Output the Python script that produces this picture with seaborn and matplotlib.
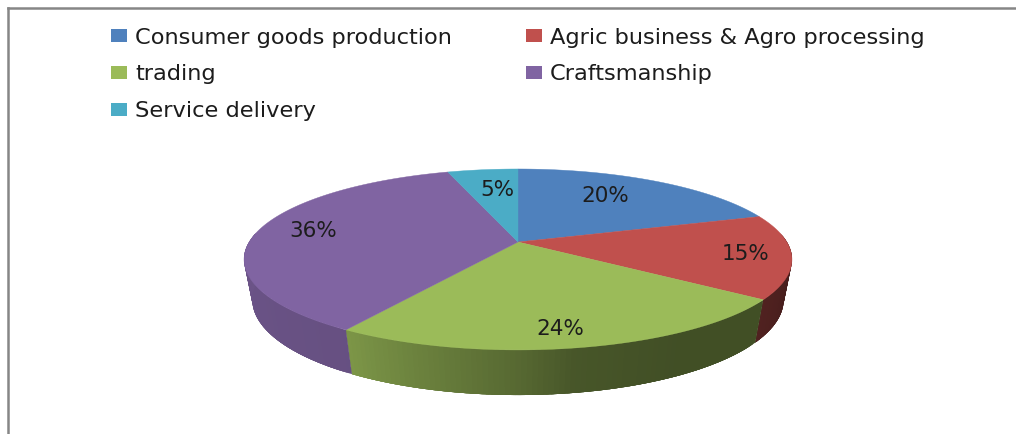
import numpy as np
import matplotlib
matplotlib.use("Agg")
import matplotlib.pyplot as plt
from matplotlib.patches import Patch
import seaborn as sns

# Survey shares, clockwise from twelve o'clock
categories = ["Consumer goods production", "Agric business & Agro processing",
              "trading", "Craftsmanship", "Service delivery"]
shares = [20, 15, 24, 36, 5]
slice_colors = ["#4F81BD", "#C0504D", "#9BBB59", "#8064A2", "#4BACC6"]

# Placement of the percentage labels (pixel space)
label_x = [605, 746, 560, 313, 497]
label_y = [196, 254, 329, 231, 190]

sns.set_theme(style="white")
plt.rcParams["font.family"] = ["DejaVu Sans"]
palette = sns.color_palette(slice_colors)

# Perspective view of the disc
CX, CY = 518, 242
A, B = 268.8, 87.1
PERSP = 0.193
DEPTH, DEPTH_W = 41.0, 0.03


def project(theta, radius=1.0, lower=False):
    u, v = radius * np.sin(theta), radius * np.cos(theta)
    w = 1 + PERSP * v + (DEPTH_W if lower else 0)
    y = B * v - (DEPTH if lower else 0)
    return CX + A * u / w, CY - y / w


def side_shade(theta):
    deg = np.degrees(theta)
    return np.interp(deg, [90, 126, 150, 170, 180, 212, 270],
                     [0.33, 0.42, 0.42, 0.46, 0.56, 0.80, 0.84])


fig = plt.figure(figsize=(10.16, 4.34), dpi=100)
ax = fig.add_axes([8 / 1016, 0, 1008 / 1016, 426 / 434])
ax.set_xlim(8, 1016)
ax.set_ylim(434, 8)
ax.set_xticks([])
ax.set_yticks([])
sns.despine(ax=ax, top=False, right=True, bottom=True)
for name in ("left", "top"):
    ax.spines[name].set_color("#868686")
    ax.spines[name].set_linewidth(1.8)

edges = 2 * np.pi * np.concatenate([[0], np.cumsum(shares)]) / np.sum(shares)

# Side wall: shaded strips painted over each other along the front of the rim
for start, stop, color in zip(edges[:-1], edges[1:], palette):
    lo, hi = max(start, np.pi / 2 - 0.1), min(stop, 3 * np.pi / 2 + 0.1)
    if hi <= lo:
        continue
    steps = np.linspace(lo, hi, max(int((hi - lo) * 60), 2))
    for t0, t1 in zip(steps[:-1], steps[1:]):
        arc = np.linspace(t0, hi if t1 == hi else min(t1 + 0.06, hi), 6)
        x0, y0 = project(arc)
        x1, y1 = project(arc[::-1], lower=True)
        shade = np.array(color) * side_shade((t0 + t1) / 2)
        ax.fill(np.r_[x0, x1], np.r_[y0, y1], color=shade, lw=0, zorder=2)

# Top surface
for start, stop, color in zip(edges[:-1], edges[1:], palette):
    arc = np.linspace(start, stop, 200)
    x, y = project(arc)
    ax.fill(np.r_[CX, x], np.r_[CY, y], color=color, lw=0.3, zorder=3)

for value, lx, ly in zip(shares, label_x, label_y):
    ax.text(lx, ly, f"{value}%", ha="center", va="center", fontsize=15.5,
            color="#1c1c1c", zorder=4)

# Legend fills column by column, so order the entries to read across in rows
order = [0, 2, 4, 1, 3]
handles = [Patch(facecolor=palette[i], edgecolor="none", label=categories[i])
           for i in order]
ax.legend(handles=handles, ncol=2, frameon=False, fontsize=16.2,
          loc="upper left", bbox_to_anchor=(111, 27.5), bbox_transform=ax.transData,
          handlelength=0.71, handleheight=0.49, handletextpad=0.36,
          labelspacing=0.755, columnspacing=3.28, borderpad=0, borderaxespad=0,
          labelcolor="#1c1c1c")

fig.savefig("out.png", dpi=100, facecolor="white")
